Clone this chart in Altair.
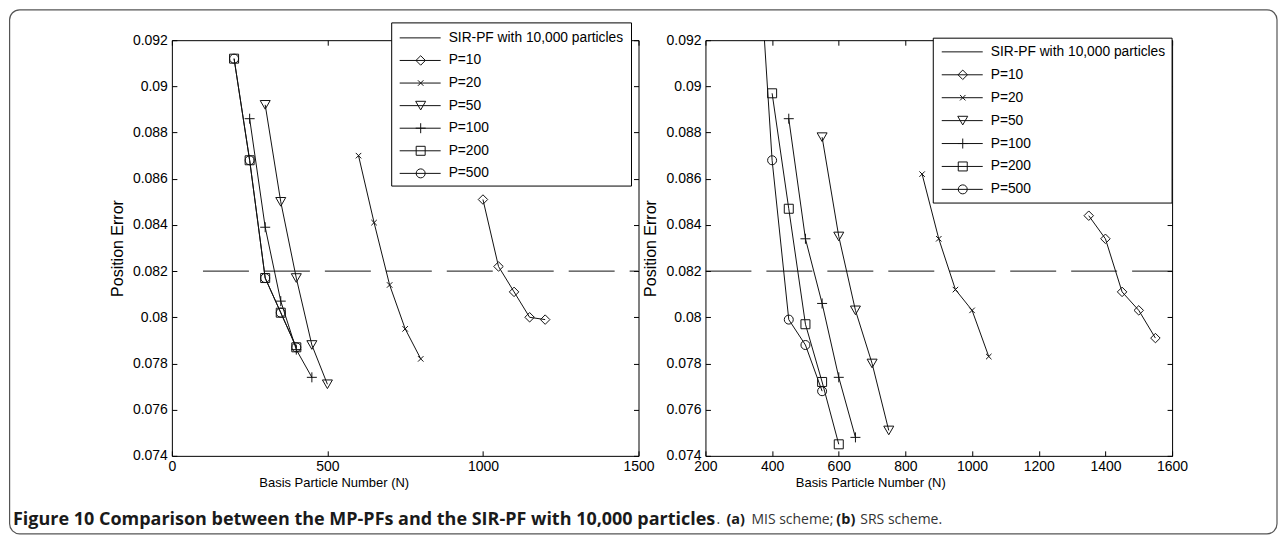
import altair as alt
import pandas as pd

FONT = "Liberation Sans"
CAP_FONT = "Open Sans"

SERIES = ["P=10", "P=20", "P=50", "P=100", "P=200", "P=500"]
SIR_LABEL = "SIR-PF with 10,000 particles"
SIR_ERROR = 0.082

# marker shapes (matlab: d, x, v, +, s, o) and sizes
SHAPES = ["diamond", "M-1,-1L1,1M-1,1L1,-1", "triangle-down", "M-1,0L1,0M0,-1L0,1", "square", "circle"]
SIZES = [90, 30, 100, 100, 81, 81]

Y_TICKS = [0.074, 0.076, 0.078, 0.08, 0.082, 0.084, 0.086, 0.088, 0.09, 0.092]
Y_DOMAIN = [0.074, 0.092]

# ---------------- (a) MIS scheme ----------------
A_X_DOMAIN = [0, 1500]
A_X_TICKS = [0, 500, 1000, 1500]
A_SIR_X = [100, 1500]
a_p10_n = [1000, 1050, 1100, 1150, 1200]
a_p10_err = [0.0851, 0.0822, 0.0811, 0.0800, 0.0799]
a_p20_n = [600, 650, 700, 750, 800]
a_p20_err = [0.0870, 0.0841, 0.0814, 0.0795, 0.0782]
a_p50_n = [300, 350, 400, 450, 500]
a_p50_err = [0.0892, 0.0850, 0.0817, 0.0788, 0.0771]
a_p100_n = [250, 300, 350, 400, 450]
a_p100_err = [0.0886, 0.0839, 0.0807, 0.0786, 0.0774]
a_p200_n = [200, 250, 300, 350, 400]
a_p200_err = [0.0912, 0.0868, 0.0817, 0.0802, 0.0787]
a_p500_n = [200, 250, 300, 350, 400]
a_p500_err = [0.0912, 0.0868, 0.0817, 0.0802, 0.0787]

# ---------------- (b) SRS scheme ----------------
B_X_DOMAIN = [200, 1600]
B_X_TICKS = [200, 400, 600, 800, 1000, 1200, 1400, 1600]
B_SIR_X = [200, 1600]
b_p10_n = [1350, 1400, 1450, 1500, 1550]
b_p10_err = [0.0844, 0.0834, 0.0811, 0.0803, 0.0791]
b_p20_n = [850, 900, 950, 1000, 1050]
b_p20_err = [0.0862, 0.0834, 0.0812, 0.0803, 0.0783]
b_p50_n = [550, 600, 650, 700, 750]
b_p50_err = [0.0878, 0.0835, 0.0803, 0.0780, 0.0751]
b_p100_n = [450, 500, 550, 600, 650]
b_p100_err = [0.0886, 0.0834, 0.0806, 0.0774, 0.0748]
b_p200_n = [400, 450, 500, 550, 600]
b_p200_err = [0.0897, 0.0847, 0.0797, 0.0772, 0.0745]
b_p500_n = [350, 400, 450, 500, 550]
b_p500_err = [0.0981, 0.0868, 0.0799, 0.0788, 0.0768]

# caption pieces: text, weight, font size, left position (px from left plot edge)
CAPTION = [
    ("Figure 10 Comparison between the MP-PFs and the SIR-PF with 10,000 particles", "bold", 18, -159),
    (".", "normal", 14, 545),
    ("(a)", "bold", 14.5, 555),
    ("MIS scheme;", "normal", 14, 580),
    ("(b)", "bold", 14.5, 665),
    ("SRS scheme.", "normal", 14, 689),
]

W, H = 467, 416
INK = "#111"


def series_frame(pairs):
    rows = []
    for name, ns, errs in pairs:
        for n, e in zip(ns, errs):
            rows.append({"series": name, "N": n, "err": e})
    return pd.DataFrame(rows)


def make_panel(df, sir_x, x_domain, x_ticks, box, rows_range, lx, title_x, decor=False):
    xs = alt.Scale(domain=x_domain, nice=False, zero=False)
    ys = alt.Scale(domain=Y_DOMAIN, nice=False, zero=False)
    common_ax = dict(tickSize=5, tickColor="black", tickWidth=1, domain=False, grid=False, offset=-5)
    ax_bottom = alt.Axis(orient="bottom", values=x_ticks, format="d", labelFont=FONT, labelFontSize=14,
                         labelColor="black", labelPadding=4, labelFlush=False, labelOverlap=False,
                         title="Basis Particle Number (N)", titleFont=FONT, titleFontSize=13,
                         titleFontWeight="normal", titleColor="black", titlePadding=3, titleX=title_x,
                         **common_ax)
    ax_left = alt.Axis(orient="left", values=Y_TICKS, format=".3~f", labelFont=FONT, labelFontSize=14,
                       labelColor="black", labelPadding=4.5, title="Position Error", titleFont=FONT,
                       titleFontSize=16, titleFontWeight="normal", titleColor="black", titlePadding=7,
                       **common_ax)
    ax_top = alt.Axis(orient="top", values=x_ticks, labels=False, title=None, **common_ax)
    ax_right = alt.Axis(orient="right", values=Y_TICKS, labels=False, title=None, **common_ax)

    shape_scale = alt.Scale(type="ordinal", domain=SERIES, range=SHAPES)
    size_scale = alt.Scale(type="ordinal", domain=SERIES, range=SIZES)

    base = alt.Chart(df)
    lines = base.mark_line(color=INK, strokeWidth=1, clip=True).encode(
        x=alt.X("N:Q", scale=xs, axis=ax_bottom),
        y=alt.Y("err:Q", scale=ys, axis=ax_left),
        detail="series:N",
    )
    points = base.mark_point(filled=False, color=INK, strokeWidth=1, clip=True, opacity=1).encode(
        x=alt.X("N:Q", scale=xs, axis=None),
        y=alt.Y("err:Q", scale=ys, axis=None),
        shape=alt.Shape("series:N", scale=shape_scale, legend=None),
        size=alt.Size("series:N", scale=size_scale, legend=None),
    )
    sir_df = pd.DataFrame({"x0": [sir_x[0]], "x1": [sir_x[1]], "err": [SIR_ERROR]})
    sir = alt.Chart(sir_df).mark_rule(color=INK, strokeWidth=1, strokeDash=[46, 15], clip=True).encode(
        x=alt.X("x0:Q", scale=xs, axis=ax_top),
        x2="x1:Q",
        y=alt.Y("err:Q", scale=ys, axis=ax_right),
    )
    data_group = alt.layer(lines, points, sir).resolve_axis(x="independent", y="independent")

    # legend
    labels = [SIR_LABEL] + SERIES
    leg_df = pd.DataFrame({"label": labels})
    ly = alt.Y("label:N", scale=alt.Scale(type="point", domain=labels, range=rows_range, padding=0), axis=None)
    one = pd.DataFrame({"k": [0]})
    bx0, by0, bx1, by1 = box
    leg_box = alt.Chart(one).mark_rect(fill="white", stroke="black", strokeWidth=1).encode(
        x=alt.value(bx0), x2=alt.value(bx1), y=alt.value(by0), y2=alt.value(by1))
    leg_lines = alt.Chart(leg_df).mark_rule(color=INK, strokeWidth=1).encode(
        x=alt.value(lx), x2=alt.value(lx + 41), y=ly)
    leg_pts = alt.Chart(leg_df).transform_filter(
        alt.FieldOneOfPredicate(field="label", oneOf=SERIES)
    ).mark_point(filled=False, color=INK, strokeWidth=1, opacity=1).encode(
        x=alt.value(lx + 21), y=ly,
        shape=alt.Shape("label:N", scale=shape_scale, legend=None),
        size=alt.Size("label:N", scale=size_scale, legend=None),
    )
    leg_text = alt.Chart(leg_df).mark_text(align="left", baseline="middle", font=FONT, fontSize=13.8,
                                           color="black").encode(
        x=alt.value(lx + 49), y=ly, text="label:N")
    layers = [leg_box, leg_lines, leg_pts, leg_text]

    if decor:
        border = alt.Chart(one).mark_rect(fillOpacity=0, stroke="#555", strokeWidth=1.2, cornerRadius=10).encode(
            x=alt.value(-162.4), x2=alt.value(1106), y=alt.value(-30.4), y2=alt.value(494))
        layers.append(border)
        for txt, weight, fsize, xpos in CAPTION:
            cdf = pd.DataFrame({"t": [txt]})
            layers.append(
                alt.Chart(cdf).mark_text(align="left", baseline="middle", font=CAP_FONT, fontSize=fsize,
                                         fontWeight=weight,
                                         color="#1a1a1a" if weight == "bold" else "#333").encode(
                    x=alt.value(xpos), y=alt.value(480), text="t:N")
            )
    legend_group = alt.layer(*layers)
    return alt.layer(data_group, legend_group).resolve_scale(
        y="independent", shape="independent", size="independent"
    ).properties(width=W, height=H)


df_a = series_frame([
    ("P=10", a_p10_n, a_p10_err), ("P=20", a_p20_n, a_p20_err), ("P=50", a_p50_n, a_p50_err),
    ("P=100", a_p100_n, a_p100_err), ("P=200", a_p200_n, a_p200_err), ("P=500", a_p500_n, a_p500_err),
])
df_b = series_frame([
    ("P=10", b_p10_n, b_p10_err), ("P=20", b_p20_n, b_p20_err), ("P=50", b_p50_n, b_p50_err),
    ("P=100", b_p100_n, b_p100_err), ("P=200", b_p200_n, b_p200_err), ("P=500", b_p500_n, b_p500_err),
])

left = make_panel(df_a, A_SIR_X, A_X_DOMAIN, A_X_TICKS, (220, -17.3, 460, 146), [-2.3, 133.3], 228, 162,
                  decor=True)
right = make_panel(df_b, B_SIR_X, B_X_DOMAIN, B_X_TICKS, (228, -2, 467, 163), [11.7, 149.3], 236.5, 165)

chart = alt.hconcat(left, right, spacing=67, bounds="flush").properties(padding=0).configure_view(
    stroke="black", strokeWidth=1
)

chart.save("out.html", embed_options={"renderer": "svg", "actions": False})
